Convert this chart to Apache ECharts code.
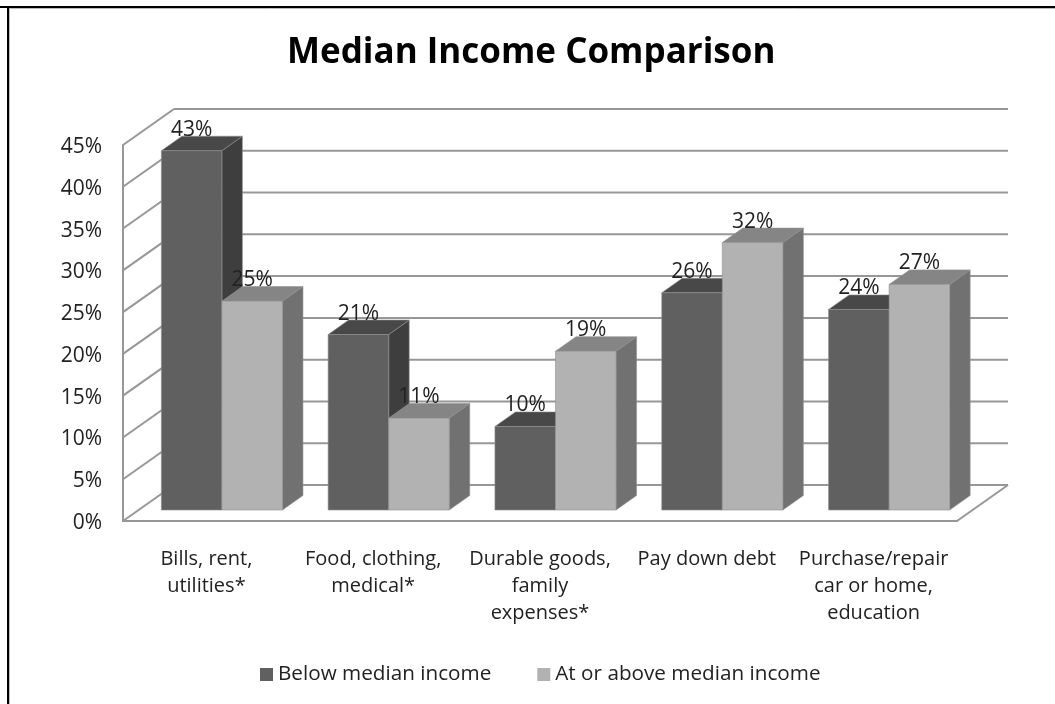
<!DOCTYPE html>
<html><head><meta charset="utf-8">
<style>html,body{margin:0;padding:0;background:#fff}#c{width:1055px;height:704px}</style>
<script src="https://cdn.jsdelivr.net/npm/echarts@6/dist/echarts.min.js"></script>
</head><body><div id="c"></div>
<script>
const categories = ['Bills, rent,\nutilities*','Food, clothing,\nmedical*','Durable goods,\nfamily\nexpenses*','Pay down debt','Purchase/repair\ncar or home,\neducation'];
const belowMedian = [43,21,10,26,24];
const atOrAbove = [25,11,19,32,27];
const yTicks = [0,5,10,15,20,25,30,35,40,45];

const FONT = '"Open Sans"';
const WALL = {dx:51, dy:-36};
const BAR = {dx:20.5, dy:-14.5, ox:15.5, oy:-11, ratio:0.363};
const LINE = '#979797';
const TEXT = '#222';
const chart = echarts.init(document.getElementById('c'), null, {renderer:'canvas'});

function poly(points, fill){
  return {type:'polygon', shape:{points}, style:{fill, stroke:'#8f8f8f', lineWidth:0.6}};
}
function barSeries(name, values, side, colors){
  return {
    name, type:'custom', coordinateSystem:'cartesian2d', clip:false, z:3,
    itemStyle:{color:colors.front},
    encode:{x:0,y:1},
    data:values.map((v,i)=>[i,v]),
    renderItem(params, api){
      const c = api.coord([api.value(0), api.value(1)]);
      const z = api.coord([api.value(0), 0]);
      const w = api.size([1,0])[0]*BAR.ratio;
      const x0 = c[0]+BAR.ox+(side<0?-w:0), x1 = x0+w;
      const t = c[1]+BAR.oy, b = z[1]+BAR.oy;
      const d = BAR;
      return {type:'group', children:[
        poly([[x1,t],[x1+d.dx,t+d.dy],[x1+d.dx,b+d.dy],[x1,b]], colors.side),
        poly([[x0,t],[x0+d.dx,t+d.dy],[x1+d.dx,t+d.dy],[x1,t]], colors.top),
        poly([[x0,t],[x1,t],[x1,b],[x0,b]], colors.front)
      ]};
    }
  };
}
function labelSeries(values, side){
  return {
    type:'custom', coordinateSystem:'cartesian2d', clip:false, z:5, silent:true,
    encode:{x:0,y:1},
    data:values.map((v,i)=>[i,v]),
    renderItem(params, api){
      const c = api.coord([api.value(0), api.value(1)]);
      const w = api.size([1,0])[0]*BAR.ratio;
      return {type:'text', style:{
        text:api.value(1)+'%', x:c[0]+BAR.ox+side*w/2, y:c[1]+BAR.oy-21,
        align:'center', verticalAlign:'middle', fill:TEXT,
        font:'21px '+FONT}};
    }
  };
}
const wallSeries = {
  type:'custom', coordinateSystem:'cartesian2d', clip:false, z:1, silent:true,
  encode:{y:0},
  data:yTicks.map(v=>[v]),
  renderItem(params, api){
    const a = api.coord([0, api.value(0)]);
    const left = params.coordSys.x, right = left+params.coordSys.width;
    const y = a[1], bx = left+WALL.dx, by = y+WALL.dy;
    const st = {stroke:LINE, lineWidth:2, fill:null};
    const kids = [
      {type:'line', shape:{x1:left,y1:y,x2:bx,y2:by}, style:st},
      {type:'line', shape:{x1:bx,y1:by,x2:right+WALL.dx,y2:by}, style:st}
    ];
    if(api.value(0)===0) kids.push({type:'line', shape:{x1:right,y1:y,x2:right+WALL.dx,y2:by}, style:st});
    return {type:'group', children:kids};
  }
};
chart.setOption({
  animation:false,
  backgroundColor:'#fff',
  textStyle:{fontFamily:FONT},
  title:{text:'Median Income Comparison', left:287, top:36, padding:0,
    textStyle:{fontFamily:FONT, fontSize:35, fontWeight:'bold', color:'#000'}},
  legend:{left:255, top:659, itemWidth:13, itemHeight:13, itemGap:46, icon:'rect',
    textStyle:{fontFamily:FONT, fontSize:20.7, color:TEXT},
    data:['Below median income','At or above median income']},
  grid:{left:123, top:145, width:834, height:376, containLabel:false},
  xAxis:{type:'category', data:categories,
    axisLine:{lineStyle:{color:LINE,width:2}}, axisTick:{show:false}, splitLine:{show:false},
    axisLabel:{interval:0, margin:25, fontFamily:FONT, fontSize:20, color:TEXT, lineHeight:27}},
  yAxis:{type:'value', min:0, max:45, interval:5,
    axisLine:{show:true, lineStyle:{color:LINE,width:2}}, axisTick:{show:false}, splitLine:{show:false},
    axisLabel:{margin:21, formatter:'{value}%', fontFamily:FONT, fontSize:21, color:TEXT, verticalAlign:'top', lineHeight:4}},
  graphic:[
    {type:'line', silent:true, shape:{x1:0,y1:7,x2:1055,y2:7}, style:{stroke:'#000',lineWidth:2}},
    {type:'line', silent:true, shape:{x1:8,y1:7,x2:8,y2:704}, style:{stroke:'#000',lineWidth:2}},
    {type:'line', silent:true, shape:{x1:9,y1:8.5,x2:1055,y2:8.5}, style:{stroke:'#bbb',lineWidth:1}},
    {type:'line', silent:true, shape:{x1:9.5,y1:8,x2:9.5,y2:704}, style:{stroke:'#bbb',lineWidth:1}}
  ],
  series:[
    wallSeries,
    barSeries('Below median income', belowMedian, -1, {front:'#606060', top:'#484848', side:'#3e3e3e'}),
    barSeries('At or above median income', atOrAbove, 1, {front:'#b2b2b2', top:'#858585', side:'#717171'}),
    labelSeries(belowMedian, -1),
    labelSeries(atOrAbove, 1)
  ]
});
</script></body></html>
